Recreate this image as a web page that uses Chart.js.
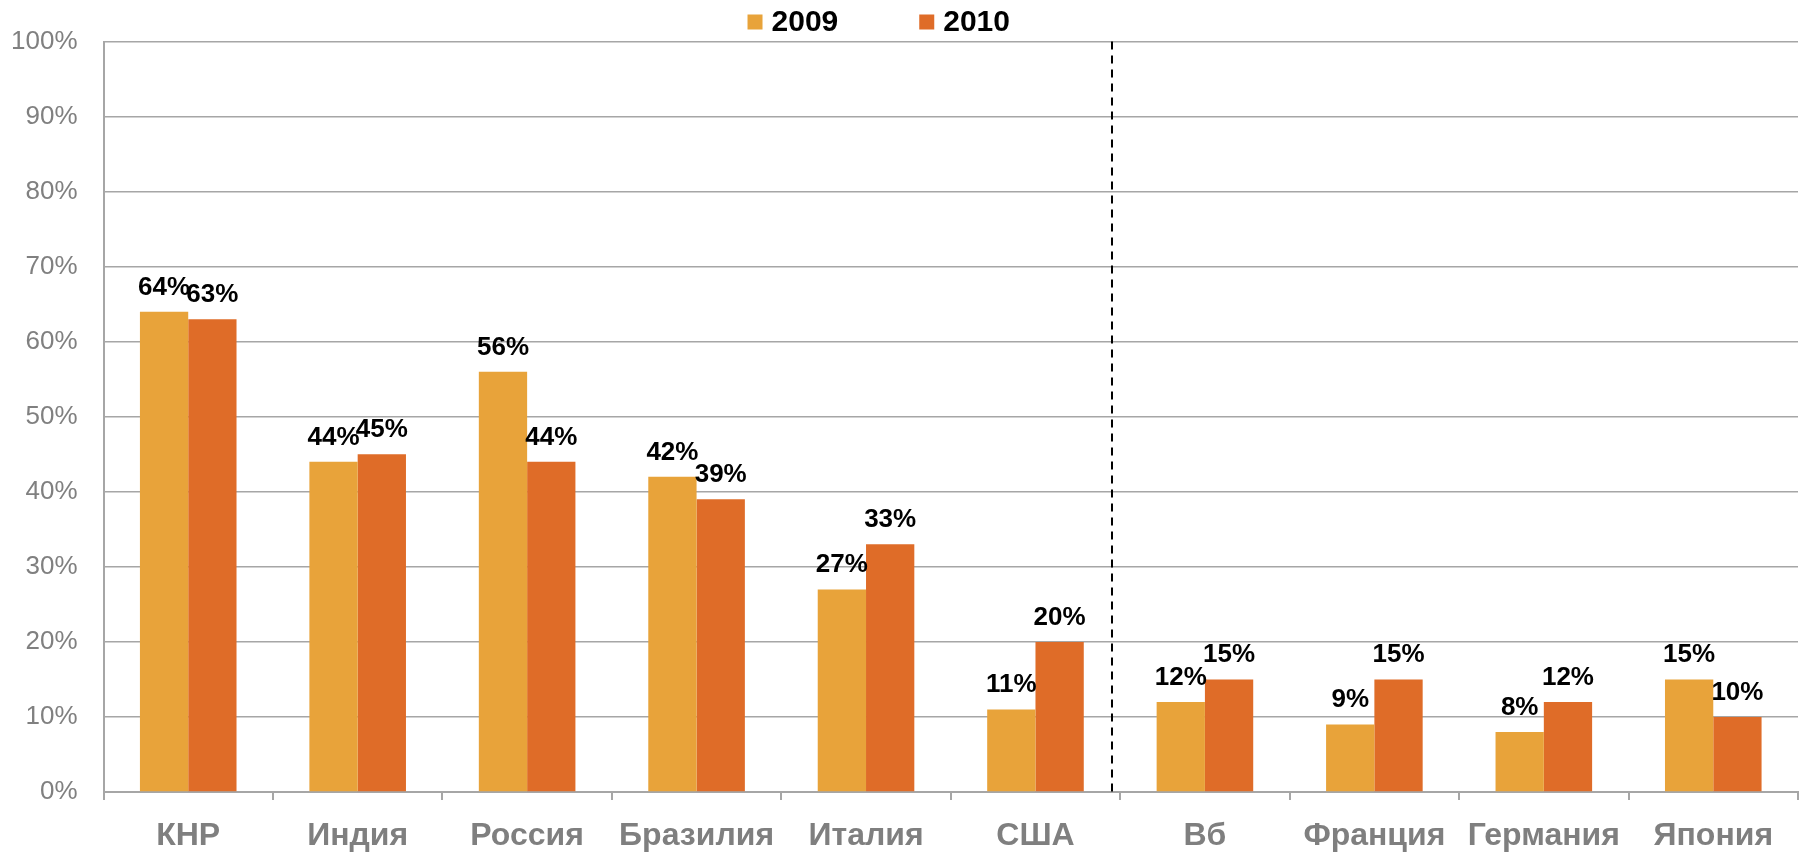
<!DOCTYPE html>
<html><head><meta charset="utf-8">
<script src="https://cdn.jsdelivr.net/npm/chart.js@4.4.1/dist/chart.umd.min.js"></script>
<style>html,body{margin:0;padding:0;background:#fff}#wrap{width:1805px;height:857px}</style>
</head><body><div id="wrap"><canvas id="c" width="1805" height="857"></canvas></div>
<script>
const categories = ['КНР','Индия','Россия','Бразилия','Италия','США','Вб','Франция','Германия','Япония'];
const seriesLabels = ['2009','2010'];
const values2009 = [64,44,56,42,27,11,12,9,8,15];
const values2010 = [63,45,44,39,33,20,15,15,12,10];
const yTickValues = [0,10,20,30,40,50,60,70,80,90,100];
const dividerAfterIndex = 5;

const COLORS = ['#E8A33A','#DF6C28'];
const FONT = '"Liberation Sans", Arial, sans-serif';

const dataLabels = {
  id:'dataLabels',
  afterDatasetsDraw(chart){
    const ctx = chart.ctx;
    ctx.save();
    ctx.font = 'bold 26px ' + FONT;
    ctx.fillStyle = '#000';
    ctx.textAlign = 'center';
    ctx.textBaseline = 'alphabetic';
    chart.data.datasets.forEach((ds,di)=>{
      const meta = chart.getDatasetMeta(di);
      meta.data.forEach((el,i)=>{
        ctx.fillText(ds.data[i] + '%', el.x, el.y - 17);
      });
    });
    ctx.restore();
  }
};

const divider = {
  id:'divider',
  afterDatasetsDraw(chart){
    const xs = chart.scales.x, ca = chart.chartArea, ctx = chart.ctx;
    const p0 = xs.getPixelForValue(dividerAfterIndex), p1 = xs.getPixelForValue(dividerAfterIndex+1);
    const x = Math.round(p0 + 0.45*(p1-p0));
    ctx.save();
    ctx.strokeStyle = '#000';
    ctx.lineWidth = 2;
    ctx.setLineDash([8,6]);
    ctx.beginPath();
    ctx.moveTo(x, ca.top);
    ctx.lineTo(x, ca.bottom);
    ctx.stroke();
    ctx.restore();
  }
};

const customLegend = {
  id:'customLegend',
  afterDraw(chart){
    const ctx = chart.ctx, ca = chart.chartArea;
    ctx.save();
    ctx.font = 'bold 30px ' + FONT;
    ctx.textBaseline = 'middle';
    ctx.textAlign = 'left';
    const box = 15, gapBT = 9, gapItems = 81;
    const items = chart.data.datasets.map(d=>({text:d.label, color:d.backgroundColor, w:ctx.measureText(d.label).width}));
    const total = items.reduce((s,it)=>s+box+gapBT+it.w,0) + gapItems*(items.length-1);
    let x = (ca.left+ca.right)/2 - 72 - total/2;
    const y = 22;
    items.forEach(it=>{
      ctx.fillStyle = it.color;
      ctx.fillRect(x, y-7.5, box, box);
      ctx.fillStyle = '#000';
      ctx.fillText(it.text, x+box+gapBT, y+1);
      x += box+gapBT+it.w+gapItems;
    });
    ctx.restore();
  }
};

new Chart(document.getElementById('c'), {
  type:'bar',
  data:{
    labels:categories,
    datasets:[
      {label:seriesLabels[0], data:values2009, backgroundColor:COLORS[0]},
      {label:seriesLabels[1], data:values2010, backgroundColor:COLORS[1]}
    ]
  },
  options:{
    responsive:false,
    devicePixelRatio:1,
    animation:false,
    layout:{padding:{top:38,right:7,left:0,bottom:0}},
    datasets:{bar:{categoryPercentage:0.57,barPercentage:1.0}},
    plugins:{legend:{display:false},tooltip:{enabled:false}},
    scales:{
      x:{
        offset:true,
        afterFit:(s)=>{s.height = 65;},
        grid:{display:true,drawOnChartArea:false,drawTicks:true,tickLength:8,color:'#a6a6a6',lineWidth:2,offset:true},
        border:{display:true,color:'#a6a6a6',width:2},
        ticks:{color:'#7f7f7f',font:{family:FONT,size:32,weight:'bold'},padding:17,maxRotation:0,autoSkip:false}
      },
      y:{
        min:0,max:100,
        afterFit:(s)=>{s.width = 103.5;},
        afterBuildTicks:(s)=>{s.ticks = yTickValues.map(v=>({value:v}));},
        grid:{color:'#a6a6a6',lineWidth:1.5,drawTicks:false},
        border:{display:true,color:'#a6a6a6',width:2},
        ticks:{color:'#808080',font:{family:FONT,size:26},padding:26,callback:(v)=>v+'%'}
      }
    }
  },
  plugins:[dataLabels, divider, customLegend]
});
</script></body></html>
